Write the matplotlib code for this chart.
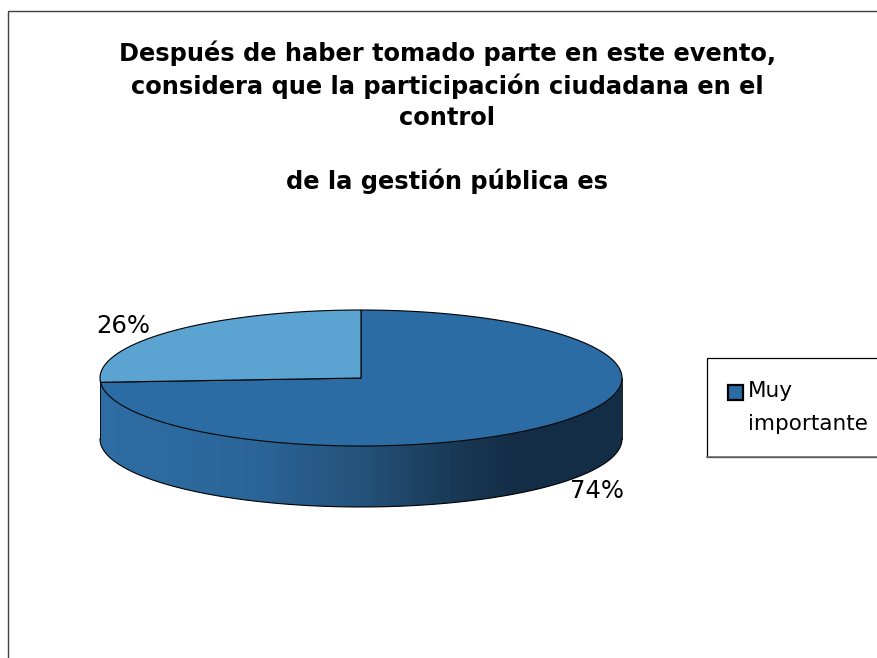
import numpy as np
import matplotlib
matplotlib.use('Agg')
import matplotlib.pyplot as plt
from matplotlib.patches import Polygon, Patch, Rectangle
from matplotlib.colors import LinearSegmentedColormap
from matplotlib.legend_handler import HandlerPatch

# data
labels = ['Muy\nimportante', '']
values = [74, 26]
pct_labels = ['74%', '26%']
title = ('Después de haber tomado parte en este evento,\n'
         'considera que la participación ciudadana en el\n'
         'control\n\n'
         'de la gestión pública es')

# pie geometry, in pixels
cx, cy = 361, 378
rx, ry = 261, 68
depth = 61
colors = ['#2C6CA4', '#5BA3D0']
side_stops = [(0, '#2E6EA5'), (0.3, '#2B6598'), (0.5, '#24527A'),
              (0.72, '#17344F'), (0.8, '#142D47'), (1, '#142D47')]

def arc(a0, a1, n=200):
    t = np.radians(np.linspace(a0, a1, n))
    return cx + rx * np.cos(t), cy - ry * np.sin(t)

# legend key sits on the first line of the label
def top_key(legend, orig_handle, xdescent, ydescent, width, height, fontsize):
    return Rectangle((-1.5, 11), width, height)

fig = plt.figure(figsize=(8.77, 6.58), dpi=100)
ax = fig.add_axes([0, 0, 1, 1])
ax.set_xlim(0, 877)
ax.set_ylim(658, 0)
ax.axis('off')

# chart frame runs off the right and bottom of the picture
ax.add_patch(Rectangle((8, 10.5), 900, 700, fill=False, ec='#404040', lw=1, clip_on=False))

ax.text(447.5, 41, title, ha='center', va='top', fontsize=17.4, fontweight='bold',
        family='DejaVu Sans', linespacing=1.36, color='black')

# side wall with the left to right shading
xs, ys = arc(180, 360)
wall = Polygon(np.column_stack([np.r_[xs, xs[::-1]], np.r_[ys + depth, ys[::-1]]]),
               closed=True, fc='none', ec='none')
ax.add_patch(wall)
cmap = LinearSegmentedColormap.from_list('wall', side_stops)
im = ax.imshow(np.linspace(0, 1, 256)[None, :], cmap=cmap, aspect='auto',
               extent=[cx - rx, cx + rx, cy + ry + depth, cy], zorder=1)
im.set_clip_path(wall)
ax.set_xlim(0, 877)
ax.set_ylim(658, 0)
ax.plot(xs, ys + depth, color='black', lw=0.8, zorder=2)
ax.plot([cx - rx, cx - rx], [cy, cy + depth], color='black', lw=0.6, zorder=2)
ax.plot([cx + rx, cx + rx], [cy, cy + depth], color='black', lw=0.6, zorder=2)

# top face, slices clockwise from 12 o'clock
start = 90
total = sum(values)
for v, c in zip(values, colors):
    end = start - 360 * v / total
    px, py = arc(start, end)
    ax.add_patch(Polygon(np.column_stack([np.r_[cx, px], np.r_[cy, py]]), closed=True,
                         fc=c, ec='black', lw=0.8, zorder=3))
    start = end

ax.text(597, 491, pct_labels[0], ha='center', va='center', fontsize=17.5, family='DejaVu Sans')
ax.text(123, 326, pct_labels[1], ha='center', va='center', fontsize=17.5, family='DejaVu Sans')

# legend box also runs off the right edge
handle = Patch(fc=colors[0], ec='black', lw=1.6, label=labels[0])
leg = ax.legend(handles=[handle], loc='upper left', bbox_to_anchor=(707, 358),
                bbox_transform=ax.transData, borderaxespad=0,
                prop={'family': 'DejaVu Sans', 'size': 15.5}, fancybox=False,
                edgecolor='black', framealpha=1, borderpad=1.07, handlelength=0.7,
                handleheight=0.7, handletextpad=0.12,
                handler_map={Patch: HandlerPatch(patch_func=top_key)})
leg.get_frame().set_linewidth(0.9)
leg.get_texts()[0].set_linespacing(1.8)
ax.plot([707, 877], [457, 457], color='#707070', lw=1.2, zorder=6)

fig.savefig('out.png', dpi=100)
